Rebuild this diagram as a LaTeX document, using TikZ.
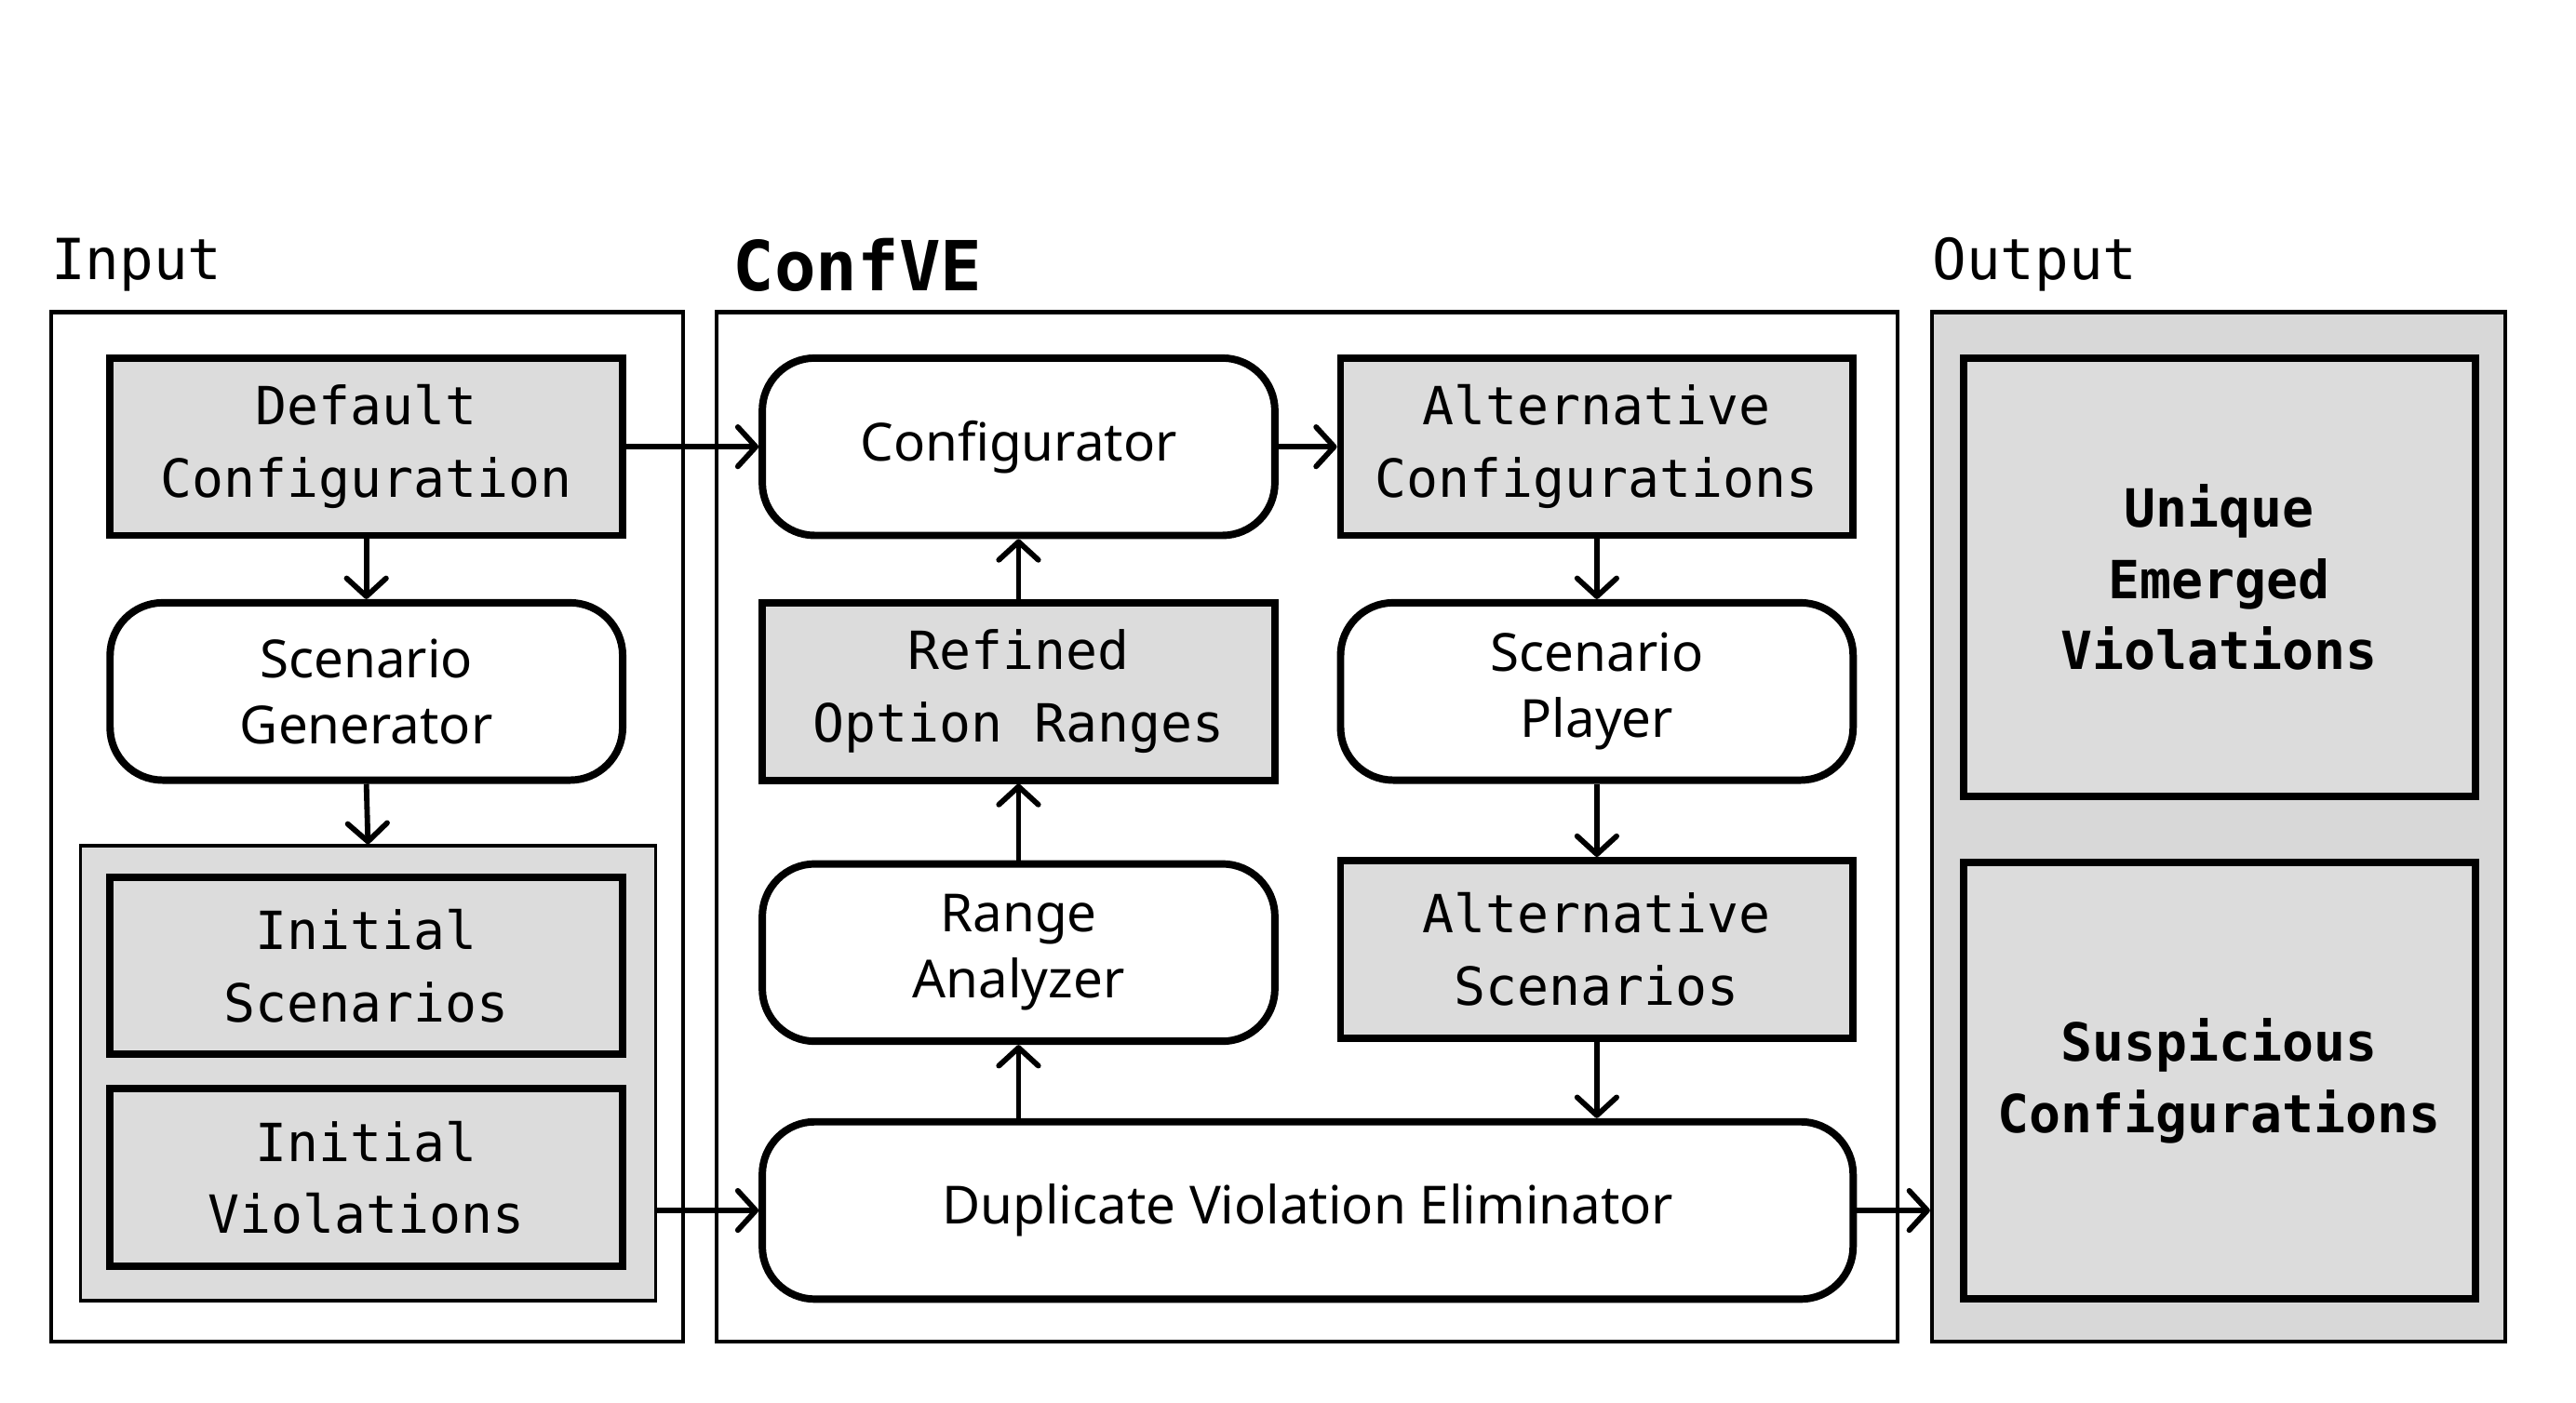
\documentclass[tikz,border=0pt]{standalone}
\usepackage{fontspec}
\setmainfont{Noto Sans}
\newfontfamily\monof{DejaVu Sans Mono}
\usetikzlibrary{arrows.meta}
\definecolor{boxgray}{HTML}{DCDCDC}
\definecolor{framegray}{HTML}{D8D8D8}
\tikzset{
  databox/.style={draw=black, fill=boxgray, line width=4.5pt, minimum width=312pt, minimum height=108pt, inner sep=0pt, align=center, font=\monof\fontsize{32}{44}\selectfont},
  procbox/.style={draw=black, fill=white, line width=4.5pt, rounded corners=32pt, minimum width=312pt, minimum height=108pt, inner sep=0pt, align=center, font=\fontsize{32}{40}\selectfont},
  outbox/.style={draw=black, fill=boxgray, line width=4.5pt, minimum width=312pt, inner sep=0pt, align=center, font=\monof\bfseries\fontsize{32}{43.5}\selectfont},
  frame/.style={draw=black, line width=2.4pt, inner sep=0pt},
  grpbox/.style={draw=black, fill=boxgray, line width=2pt, inner sep=0pt, minimum width=350pt, minimum height=277pt},
  flow/.style={line width=3.3pt, -{Straight Barb[length=11pt, width=24pt, line width=3.3pt, round]}},
  framelabel/.style={anchor=base west, inner sep=0pt, font=\monof\fontsize{34.5}{40}\selectfont},
}
\begin{document}
\begin{tikzpicture}[x=1pt, y=-1pt]
\useasboundingbox (0,0) rectangle (1568,854);
\fill[white] (0,0) rectangle (1568,854);
% frames
\node[frame, minimum width=385pt, minimum height=627pt] (inframe) at (223.5,503.5) {};
\node[frame, minimum width=719pt, minimum height=627pt] (cframe) at (795.5,503.5) {};
\node[frame, fill=framegray, minimum width=349pt, minimum height=627pt] (oframe) at (1350.5,503.5) {};
% labels
\node[framelabel] (lin) at (31,170) {Input};
\node[framelabel, font=\monof\bfseries\fontsize{42}{48}\selectfont] (lconf) at (446,177) {ConfVE};
\node[framelabel] (lout) at (1176,170) {Output};
% input
\node[databox] (dc) at (223,272) {Default\\Configuration};
\node[procbox] (sg) at (223,421) {Scenario\\Generator};
\node[grpbox] (grp) at (224,653.5) {};
\node[databox] (is) at (223,588) {Initial\\Scenarios};
\node[databox] (iv) at (223,717) {Initial\\Violations};
% confve
\node[procbox] (cfg) at (620,272) {Configurator};
\node[databox] (ac) at (972,272) {Alternative\\Configurations};
\node[databox] (ror) at (620,421) {Refined\\Option Ranges};
\node[procbox] (sp) at (972,421) {Scenario\\Player};
\node[procbox] (ra) at (620,580) {Range\\Analyzer};
\node[databox] (as) at (972,578) {Alternative\\Scenarios};
\node[procbox, minimum width=664pt] (dve) at (796,737) {Duplicate Violation Eliminator};
% output
\node[outbox, minimum height=267pt] (uev) at (1351,351.5) {Unique\\Emerged\\Violations};
\node[outbox, minimum height=266pt] (sc) at (1351,658) {Suspicious\\Configurations};
% connectors
\draw[flow] (dc.east) -- (cfg.west);
\draw[flow] (cfg.east) -- (ac.west);
\draw[flow] (dc.south) -- (sg.north);
\draw[flow] (sg.south) -- (grp.north);
\draw[flow] (grp.east |- dve.west) -- (dve.west);
\draw[flow] (ac.south) -- (sp.north);
\draw[flow] (sp.south) -- (as.north);
\draw[flow] (as.south) -- (as.south |- dve.north);
\draw[flow] (ra.south |- dve.north) -- (ra.south);
\draw[flow] (ra.north) -- (ror.south);
\draw[flow] (ror.north) -- (cfg.south);
\draw[flow] (dve.east) -- (oframe.west |- dve.east);
\end{tikzpicture}
\end{document}
